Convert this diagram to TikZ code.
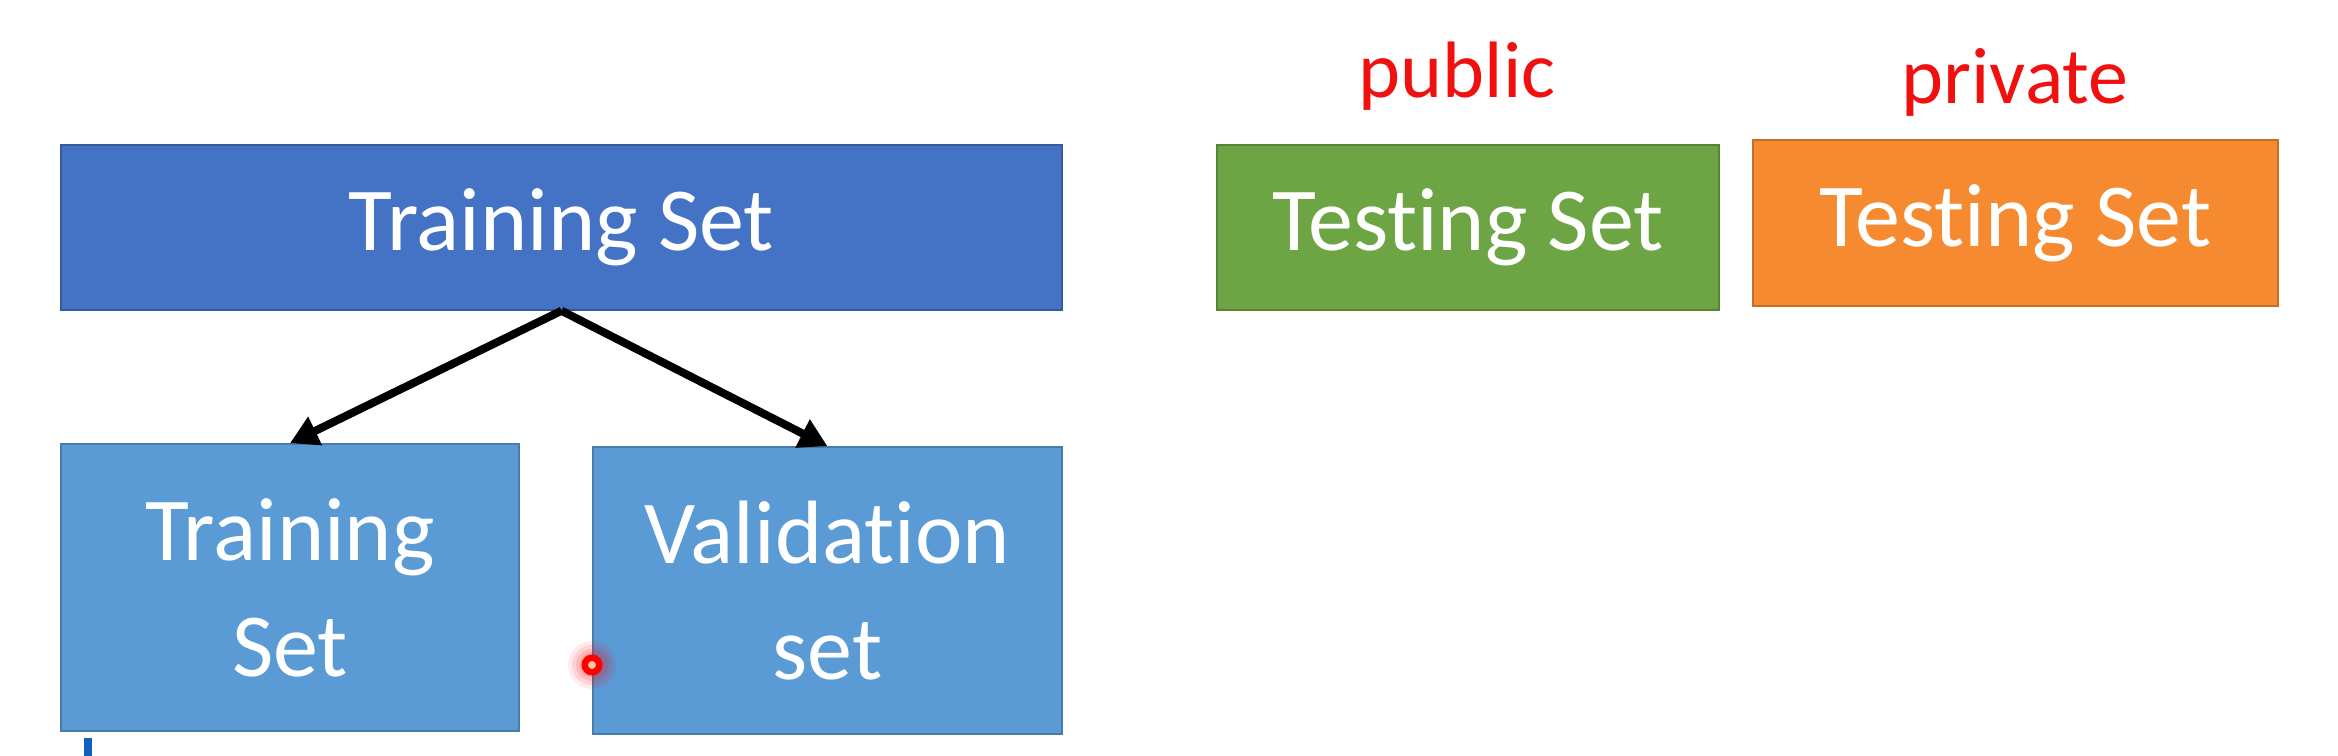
\documentclass[tikz,border=0pt]{standalone}
\usepackage{fontspec}
\setmainfont{Carlito}[RawFeature={-liga}]
\usetikzlibrary{arrows.meta}
\definecolor{bigblue}{HTML}{4472C4}
\definecolor{smallblue}{HTML}{5B9BD5}
\definecolor{tgreen}{HTML}{6DA544}
\definecolor{torange}{HTML}{F58A30}
\definecolor{lblred}{HTML}{F01010}
\definecolor{cursorblue}{HTML}{1060C0}
\begin{document}
\begin{tikzpicture}[x=0.25pt,y=-0.25pt,
  setbox/.style={draw=#1!80!black, line width=0.4pt, fill=#1, text=white, inner sep=0pt,
    font=\fontsize{22.5}{29}\selectfont, align=center},
  lbl/.style={text=lblred, font=\fontsize{20}{24}\selectfont, inner sep=0pt},
  arr/.style={line width=2pt, -{Triangle[length=7pt,width=7.5pt]}}]
\useasboundingbox[fill=white] (0,0) rectangle (2338,756);
\node[setbox=bigblue, minimum width=250.25pt, minimum height=41.25pt] (big) at (561.5,227.5) {Training Set};
\node[setbox=tgreen, minimum width=125.5pt, minimum height=41.25pt] (pub) at (1468,227.5) {Testing Set};
\node[setbox=torange, minimum width=131.25pt, minimum height=41.5pt] (priv) at (2015.5,223) {Testing Set};
\node[setbox=smallblue, minimum width=114.5pt, minimum height=71.75pt] (tr) at (290,587.5) {Training\\Set};
\node[setbox=smallblue, minimum width=117.25pt, minimum height=71.75pt] (val) at (827.5,590.5) {Validation\\set};
\node[lbl, anchor=base] (publbl) at (1457,98) {public};
\node[lbl, anchor=base] (privlbl) at (2015,104) {private};
\draw[arr] (big.south) -- (tr.north);
\draw[arr] (big.south) -- (val.north);
% laser pointer dot
\foreach \r/\o in {6/0.08,5/0.1,4/0.12,3/0.15}
  \fill[red, opacity=\o] (592,665) circle (\r pt);
\draw[red, line width=1.6pt, fill=orange!40] (592,665) circle (1.8pt);
% cursor mark
\fill[cursorblue] (84,738) rectangle (92,756);
\end{tikzpicture}
\end{document}
